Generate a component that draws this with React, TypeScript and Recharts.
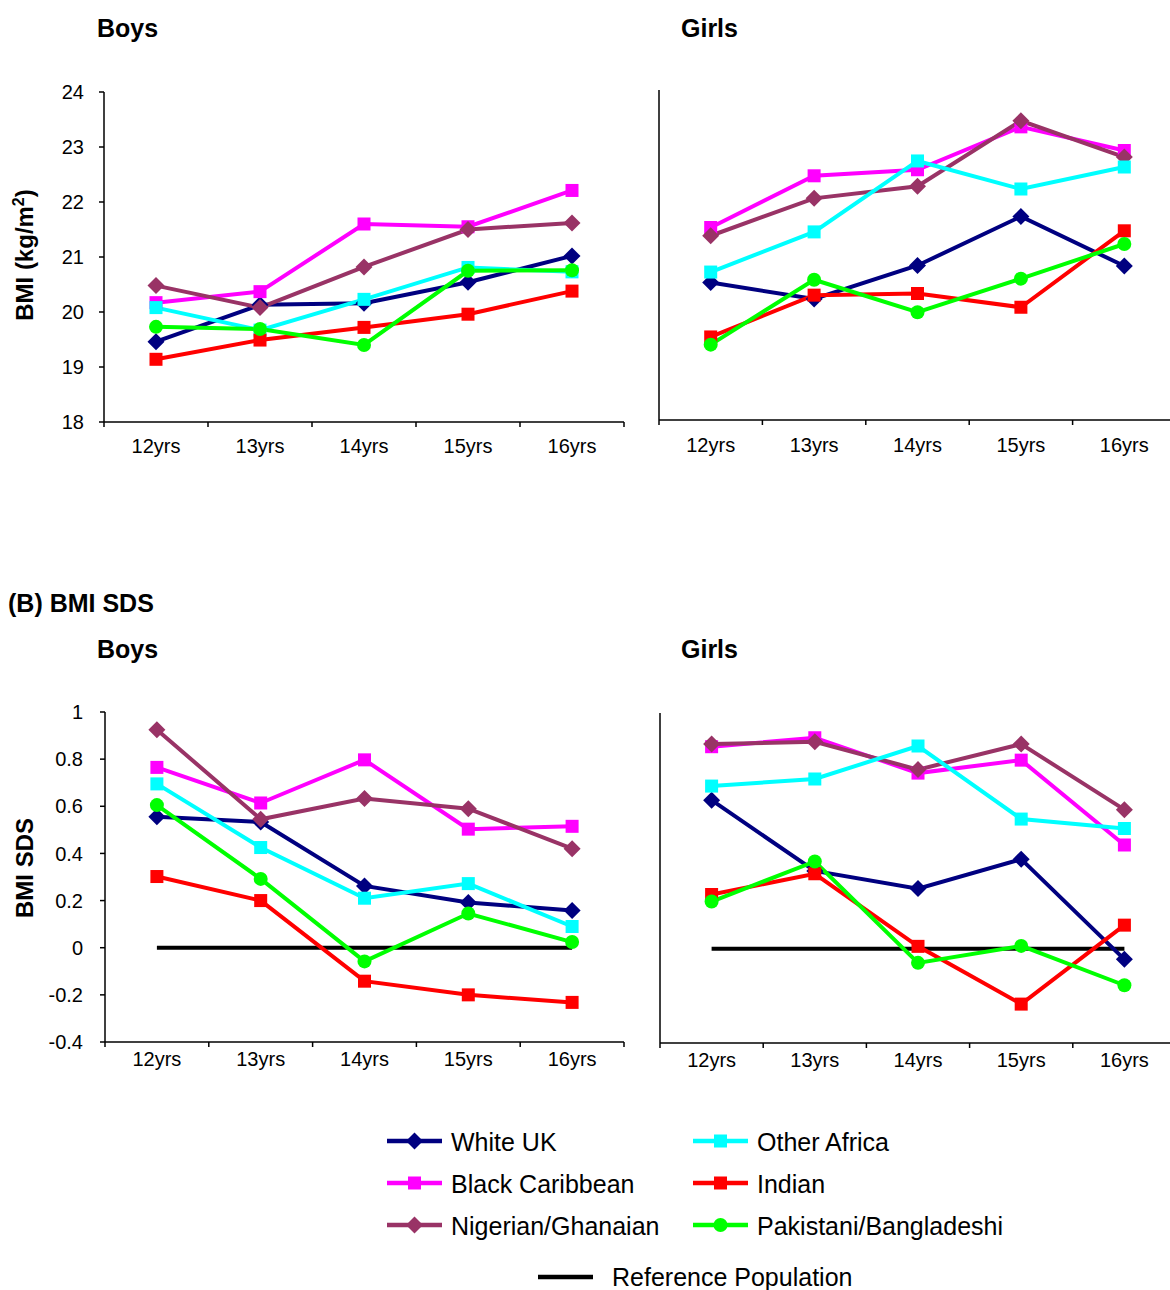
import React from 'react'
import { LineChart, Line, XAxis, YAxis } from 'recharts'

const FONT = 'Arial, "Liberation Sans", Helvetica, sans-serif'

const ages = ['12yrs', '13yrs', '14yrs', '15yrs', '16yrs']

// (A) BMI, kg/m2
const boysBmiWhiteUk = [19.46, 20.13, 20.16, 20.54, 21.02]
const boysBmiBlackCaribbean = [20.17, 20.37, 21.6, 21.55, 22.21]
const boysBmiNigerian = [20.48, 20.08, 20.82, 21.5, 21.62]
const boysBmiOtherAfrica = [20.08, 19.67, 20.23, 20.81, 20.73]
const boysBmiIndian = [19.14, 19.49, 19.72, 19.96, 20.38]
const boysBmiPakBang = [19.73, 19.69, 19.4, 20.75, 20.76]

const girlsBmiWhiteUk = [20.5, 20.2, 20.81, 21.7, 20.8]
const girlsBmiBlackCaribbean = [21.5, 22.44, 22.55, 23.33, 22.9]
const girlsBmiNigerian = [21.35, 22.03, 22.25, 23.44, 22.78]
const girlsBmiOtherAfrica = [20.69, 21.42, 22.71, 22.2, 22.6]
const girlsBmiIndian = [19.51, 20.27, 20.3, 20.05, 21.44]
const girlsBmiPakBang = [19.37, 20.55, 19.96, 20.57, 21.2]

// (B) BMI SDS
const boysSdsWhiteUk = [0.556, 0.533, 0.262, 0.192, 0.158]
const boysSdsBlackCaribbean = [0.765, 0.614, 0.797, 0.503, 0.515]
const boysSdsNigerian = [0.925, 0.545, 0.633, 0.59, 0.42]
const boysSdsOtherAfrica = [0.695, 0.425, 0.21, 0.272, 0.09]
const boysSdsIndian = [0.302, 0.2, -0.142, -0.2, -0.232]
const boysSdsPakBang = [0.605, 0.292, -0.058, 0.145, 0.024]

const girlsSdsWhiteUk = [0.63, 0.33, 0.255, 0.38, -0.045]
const girlsSdsBlackCaribbean = [0.857, 0.895, 0.745, 0.8, 0.44]
const girlsSdsNigerian = [0.868, 0.878, 0.76, 0.868, 0.59]
const girlsSdsOtherAfrica = [0.69, 0.72, 0.86, 0.55, 0.51]
const girlsSdsIndian = [0.23, 0.318, 0.01, -0.235, 0.1]
const girlsSdsPakBang = [0.2, 0.37, -0.06, 0.012, -0.155]

const referencePopulation = [0, 0, 0, 0, 0]

const bmiTicks = [18, 19, 20, 21, 22, 23, 24]
const sdsTicks = [-0.4, -0.2, 0, 0.2, 0.4, 0.6, 0.8, 1]

type Shape = 'diamond' | 'square' | 'circle'

const SERIES: { key: string; name: string; color: string; shape: Shape }[] = [
  { key: 'whiteUk', name: 'White UK', color: '#000080', shape: 'diamond' },
  { key: 'blackCaribbean', name: 'Black Caribbean', color: '#FF00FF', shape: 'square' },
  { key: 'nigerian', name: 'Nigerian/Ghanaian', color: '#993366', shape: 'diamond' },
  { key: 'otherAfrica', name: 'Other Africa', color: '#00FFFF', shape: 'square' },
  { key: 'indian', name: 'Indian', color: '#FF0000', shape: 'square' },
  { key: 'pakBang', name: 'Pakistani/Bangladeshi', color: '#00FF00', shape: 'circle' },
]

function buildRows(cols: number[][], withRef: boolean) {
  return ages.map((age, i) => {
    const row: Record<string, any> = { age }
    SERIES.forEach((s, j) => (row[s.key] = cols[j][i]))
    if (withRef) row.reference = referencePopulation[i]
    return row
  })
}

const boysBmi = buildRows(
  [boysBmiWhiteUk, boysBmiBlackCaribbean, boysBmiNigerian, boysBmiOtherAfrica, boysBmiIndian, boysBmiPakBang],
  false
)
const girlsBmi = buildRows(
  [girlsBmiWhiteUk, girlsBmiBlackCaribbean, girlsBmiNigerian, girlsBmiOtherAfrica, girlsBmiIndian, girlsBmiPakBang],
  false
)
const boysSds = buildRows(
  [boysSdsWhiteUk, boysSdsBlackCaribbean, boysSdsNigerian, boysSdsOtherAfrica, boysSdsIndian, boysSdsPakBang],
  true
)
const girlsSds = buildRows(
  [girlsSdsWhiteUk, girlsSdsBlackCaribbean, girlsSdsNigerian, girlsSdsOtherAfrica, girlsSdsIndian, girlsSdsPakBang],
  true
)

function Marker({ shape, color, cx, cy }: { shape: Shape; color: string; cx: number; cy: number }) {
  if (shape === 'diamond') {
    const r = 8.5
    return <polygon points={`${cx},${cy - r} ${cx + r},${cy} ${cx},${cy + r} ${cx - r},${cy}`} fill={color} />
  }
  if (shape === 'square') {
    const h = 6.5
    return <rect x={cx - h} y={cy - h} width={h * 2} height={h * 2} fill={color} />
  }
  return <circle cx={cx} cy={cy} r={7} fill={color} />
}

const dotFor = (shape: Shape, color: string) => (p: any) => {
  if (p.cx == null || p.cy == null) return <g key={p.index} />
  return (
    <g key={p.index}>
      <Marker shape={shape} color={color} cx={p.cx} cy={p.cy} />
    </g>
  )
}

// category labels centred in each band, tick marks on the band edges
const bandTick = (band: number, labelOffset: number) => (p: any) => {
  const { x, y, payload, index } = p
  return (
    <g>
      <line x1={x - band / 2} x2={x - band / 2} y1={y} y2={y + 5} stroke="#000" strokeWidth={1.5} />
      {index === ages.length - 1 && (
        <line x1={x + band / 2} x2={x + band / 2} y1={y} y2={y + 5} stroke="#000" strokeWidth={1.5} />
      )}
      <text x={x} y={y + labelOffset} textAnchor="middle" fontSize={20} fontFamily={FONT} fill="#000">
        {payload.value}
      </text>
    </g>
  )
}

interface PanelProps {
  left: number
  top: number
  width: number
  height: number
  plotTop: number
  plotLeft: number
  plotRight: number
  data: any[]
  domain: [number, number]
  ticks: number[]
  showLabels: boolean
  tickMargin: number
  labelOffset: number
  yLabel?: React.ReactNode
  labelY?: number
  withRef: boolean
}

function Panel(props: PanelProps) {
  const {
    left, top, width, height, plotTop, plotLeft, plotRight, data, domain, ticks,
    showLabels, tickMargin, labelOffset, yLabel, labelY, withRef,
  } = props
  const plotHeight = 330
  const band = (plotRight - plotLeft) / ages.length
  return (
    <div style={{ position: 'absolute', left, top }}>
      <LineChart
        width={width}
        height={height}
        data={data}
        margin={{ top: plotTop - top, right: left + width - plotRight, bottom: 0, left: 0 }}
      >
        <XAxis
          dataKey="age"
          scale="band"
          interval={0}
          height={height - (plotTop - top) - plotHeight}
          tickLine={false}
          tickSize={0}
          tickMargin={0}
          axisLine={{ stroke: '#000', strokeWidth: 1.5 }}
          tick={bandTick(band, labelOffset)}
        />
        <YAxis
          type="number"
          width={plotLeft - left}
          domain={domain}
          ticks={ticks}
          interval={0}
          allowDecimals
          tickSize={5}
          tickMargin={tickMargin}
          tickLine={{ stroke: '#000', strokeWidth: 1.5 }}
          axisLine={{ stroke: '#000', strokeWidth: 1.5 }}
          tick={showLabels ? { fontSize: 20, fontFamily: FONT, fill: '#000' } : false}
          tickFormatter={(v: number) => String(Math.round(v * 10) / 10)}
          label={
            yLabel
              ? {
                  content: () => (
                    <text
                      x={33}
                      y={(labelY ?? 0) - top}
                      transform={`rotate(-90, 33, ${(labelY ?? 0) - top})`}
                      textAnchor="middle"
                      fontSize={24}
                      fontWeight="bold"
                      fontFamily={FONT}
                      fill="#000"
                    >
                      {yLabel}
                    </text>
                  ),
                }
              : undefined
          }
        />
        {withRef && (
          <Line
            dataKey="reference"
            stroke="#000"
            strokeWidth={4}
            dot={false}
            activeDot={false}
            isAnimationActive={false}
          />
        )}
        {SERIES.map((s) => (
          <Line
            key={s.key}
            dataKey={s.key}
            name={s.name}
            stroke={s.color}
            strokeWidth={4}
            dot={dotFor(s.shape, s.color)}
            activeDot={false}
            isAnimationActive={false}
          />
        ))}
      </LineChart>
    </div>
  )
}

const titleStyle = { fontSize: 25, fontWeight: 'bold' as const, fontFamily: FONT, fill: '#000' }

function Titles() {
  return (
    <svg width={1170} height={1290} style={{ position: 'absolute', left: 0, top: 0, pointerEvents: 'none' }}>
      <text x={97} y={37} {...titleStyle}>Boys</text>
      <text x={681} y={37} {...titleStyle}>Girls</text>
      <text x={8} y={612} {...titleStyle}>(B) BMI SDS</text>
      <text x={97} y={658} {...titleStyle}>Boys</text>
      <text x={681} y={658} {...titleStyle}>Girls</text>
    </svg>
  )
}

function FigureLegend() {
  const rowsY = [1141, 1183, 1225]
  const cols = [387, 693]
  return (
    <svg width={1170} height={1290} style={{ position: 'absolute', left: 0, top: 0, pointerEvents: 'none' }}>
      {SERIES.map((s, i) => {
        const col = Math.floor(i / 3)
        const y = rowsY[i % 3]
        const x0 = cols[col]
        return (
          <g key={s.key}>
            <line x1={x0} x2={x0 + 55} y1={y} y2={y} stroke={s.color} strokeWidth={4.5} />
            <Marker shape={s.shape} color={s.color} cx={x0 + 27.5} cy={y} />
            <text x={x0 + 64} y={y + 10} fontSize={25} fontFamily={FONT} fill="#000">
              {s.name}
            </text>
          </g>
        )
      })}
      <line x1={538} x2={593} y1={1277} y2={1277} stroke="#000" strokeWidth={4.5} />
      <text x={612} y={1286} fontSize={25} fontFamily={FONT} fill="#000">
        Reference Population
      </text>
    </svg>
  )
}

export default function App() {
  const bmiLabel = (
    <>
      BMI (kg/m<tspan dy={-9} fontSize={16}>2</tspan>
      <tspan dy={9}>)</tspan>
    </>
  )
  return (
    <div
      style={{
        position: 'absolute',
        left: 0,
        top: 0,
        width: 1170,
        height: 1290,
        overflow: 'hidden',
        background: '#fff',
        fontFamily: FONT,
      }}
    >
      <Titles />
      <Panel
        left={0}
        top={0}
        width={640}
        height={480}
        plotTop={92}
        plotLeft={104}
        plotRight={624}
        data={boysBmi}
        domain={[18, 24]}
        ticks={bmiTicks}
        showLabels
        tickMargin={15}
        labelOffset={31}
        yLabel={bmiLabel}
        labelY={255}
        withRef={false}
      />
      <Panel
        left={600}
        top={0}
        width={580}
        height={480}
        plotTop={90}
        plotLeft={659}
        plotRight={1176}
        data={girlsBmi}
        domain={[18, 24]}
        ticks={bmiTicks}
        showLabels={false}
        tickMargin={15}
        labelOffset={32}
        withRef={false}
      />
      <Panel
        left={0}
        top={620}
        width={640}
        height={480}
        plotTop={712}
        plotLeft={105}
        plotRight={624}
        data={boysSds}
        domain={[-0.4, 1]}
        ticks={sdsTicks}
        showLabels
        tickMargin={17}
        labelOffset={24}
        yLabel="BMI SDS"
        labelY={868}
        withRef
      />
      <Panel
        left={600}
        top={620}
        width={580}
        height={480}
        plotTop={713}
        plotLeft={660}
        plotRight={1176}
        data={girlsSds}
        domain={[-0.4, 1]}
        ticks={sdsTicks}
        showLabels={false}
        tickMargin={17}
        labelOffset={24}
        withRef
      />
      <FigureLegend />
    </div>
  )
}
